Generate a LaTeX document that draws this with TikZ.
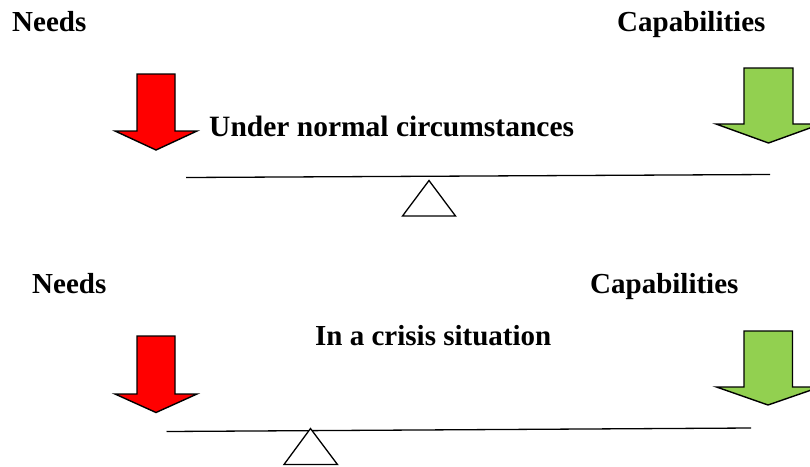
\documentclass[tikz,border=0pt]{standalone}
\usepackage{fontspec}
\setmainfont{Liberation Serif}
\usepackage{xcolor}
\usepackage{tikz}
\usetikzlibrary{calc}
\definecolor{cneed}{RGB}{255,0,0}
\definecolor{ccap}{RGB}{146,208,80}

\begin{document}
\begin{tikzpicture}[
  x=1pt,y=-1pt,
  head/.style={font=\fontsize{29}{32}\selectfont\bfseries,inner sep=0pt,anchor=base west},
  title/.style={font=\fontsize{29.5}{32}\selectfont\bfseries,inner sep=0pt,anchor=base west},
  needarrow/.style={draw=black,line width=1.4pt,line join=miter,fill=cneed},
  caparrow/.style={draw=black,line width=1.4pt,line join=miter,fill=ccap},
  beam/.style={draw=black,line width=1.3pt},
  pivot/.style={draw=black,line width=1.3pt,line join=miter,fill=white},
]
\clip (0,0) rectangle (810,466);
\useasboundingbox (0,0) rectangle (810,466);

% normal circumstances
\node[head]  (needsA) at (12,31)     {Needs};
\node[head]  (capsA)  at (617,31)    {Capabilities};
\node[title] (normal) at (209,136.5) {Under normal circumstances};
\draw[needarrow] (137,74) -- (175,74) -- (175,131) -- (197,131) -- (156,150)
  -- (115,131) -- (137,131) -- cycle;
\draw[caparrow] (744,68) -- (793,68) -- (793,124) -- (821,124) -- (768.5,143)
  -- (716,124) -- (744,124) -- cycle;
\coordinate (beamAl) at (186,177.5);
\coordinate (beamAr) at (770,174.5);
\draw[beam] (beamAl) -- (beamAr);
\draw[pivot] (429,180.5) -- (455.5,216) -- (402.5,216) -- cycle;

% crisis situation
\node[head]  (needsB) at (32,293)  {Needs};
\node[head]  (capsB)  at (590,293) {Capabilities};
\node[head]  (crisis) at (315,345) {In a crisis situation};
\draw[needarrow] (137,336) -- (175,336) -- (175,394) -- (197,394) -- (156,412.5)
  -- (115,394) -- (137,394) -- cycle;
\draw[caparrow] (744,331) -- (792.5,331) -- (792.5,387) -- (820,387) -- (768,405)
  -- (716.5,387) -- (744,387) -- cycle;
\coordinate (beamBl) at (166.5,431.5);
\coordinate (beamBr) at (751,428);
\draw[beam] (beamBl) -- (beamBr);
\draw[pivot] (310.5,428.5) -- (337.5,464.5) -- (284,464.5) -- cycle;
\end{tikzpicture}
\end{document}
